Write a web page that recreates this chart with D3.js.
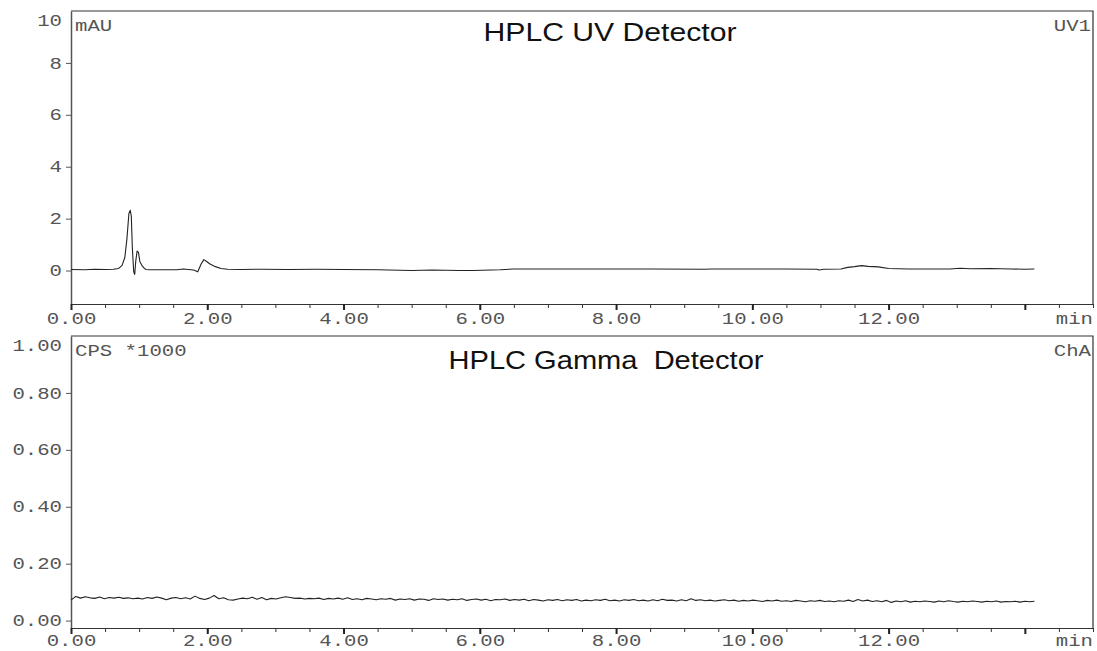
<!DOCTYPE html>
<html>
<head>
<meta charset="utf-8">
<script src="https://cdn.jsdelivr.net/npm/d3@7"></script>
<style>
  body { margin: 0; background: #fff; }
  .tick text { font-family: "Courier New", "Liberation Mono", monospace; fill: #555; }
  .lbl { font-family: "Courier New", "Liberation Mono", monospace; fill: #555; }
  .title { font-family: Arial, "Liberation Sans", sans-serif; fill: #111; }
</style>
</head>
<body>
<div id="chart"></div>
<script>
// UV trace, [min, mAU]
let uvTimes = [0, 0.2, 0.35, 0.5, 0.62, 0.7, 0.75, 0.79, 0.82, 0.85, 0.87, 0.885, 0.9, 0.92, 0.935, 0.95, 0.97, 0.99,
  1.01, 1.04, 1.07, 1.1, 1.16, 1.3, 1.55, 1.65, 1.72, 1.8, 1.86, 1.91, 1.95, 1.99, 2.04, 2.12, 2.2, 2.3, 2.5,
  2.8, 3.2, 3.6, 4.0, 4.5, 5.0, 5.3, 5.7, 5.9, 6.3, 6.5, 7.5, 8.5, 9.3, 9.4, 10.5, 10.95, 10.98, 11.05, 11.3,
  11.4, 11.5, 11.6, 11.7, 11.85, 12.0, 12.3, 12.9, 13.05, 13.2, 13.5, 13.8, 14.0, 14.14];
let uvValues = [0.04, 0.03, 0.05, 0.04, 0.05, 0.08, 0.2, 0.5, 1.2, 2.2, 2.32, 2.1, 0.9, -0.05, -0.15, 0.35, 0.75, 0.7,
  0.35, 0.2, 0.1, 0.04, 0.03, 0.03, 0.03, 0.06, 0.04, 0.02, -0.05, 0.25, 0.42, 0.35, 0.25, 0.15, 0.08, 0.05, 0.04,
  0.05, 0.04, 0.05, 0.04, 0.03, 0.0, 0.02, 0.0, 0.0, 0.03, 0.06, 0.06, 0.06, 0.05, 0.06, 0.06, 0.05, 0.02, 0.05, 0.06,
  0.12, 0.15, 0.19, 0.16, 0.14, 0.08, 0.06, 0.06, 0.09, 0.07, 0.08, 0.06, 0.05, 0.06];

// gamma trace, CPS*1000, one reading every gammaStep minutes
let gammaStep = 0.07;
let gammaValues = [
  0.072, 0.085, 0.079, 0.084, 0.080, 0.078, 0.083, 0.077, 0.081, 0.079,
  0.082, 0.078, 0.080, 0.077, 0.079, 0.076, 0.081, 0.078, 0.083, 0.079,
  0.073, 0.079, 0.081, 0.077, 0.080, 0.076, 0.086, 0.078, 0.074, 0.079,
  0.088, 0.077, 0.080, 0.073, 0.072, 0.076, 0.079, 0.077, 0.082, 0.075,
  0.081, 0.073, 0.078, 0.076, 0.080, 0.084, 0.081, 0.078, 0.079, 0.076,
  0.078, 0.077, 0.079, 0.074, 0.078, 0.076, 0.079, 0.075, 0.080, 0.074,
  0.077, 0.073, 0.078, 0.076, 0.073, 0.077, 0.075, 0.078, 0.072, 0.076,
  0.074, 0.077, 0.072, 0.076, 0.075, 0.071, 0.077, 0.074, 0.076, 0.072,
  0.075, 0.073, 0.077, 0.071, 0.074, 0.076, 0.072, 0.075, 0.070, 0.074,
  0.073, 0.076, 0.071, 0.074, 0.072, 0.075, 0.070, 0.074, 0.072, 0.069,
  0.073, 0.071, 0.074, 0.070, 0.073, 0.071, 0.074, 0.069, 0.072, 0.070,
  0.073, 0.071, 0.075, 0.070, 0.072, 0.069, 0.073, 0.071, 0.074, 0.070,
  0.072, 0.069, 0.073, 0.070, 0.075, 0.071, 0.072, 0.069, 0.073, 0.070,
  0.077, 0.071, 0.073, 0.070, 0.072, 0.069, 0.071, 0.073, 0.070, 0.072,
  0.068, 0.071, 0.069, 0.072, 0.070, 0.067, 0.071, 0.069, 0.072, 0.068,
  0.070, 0.067, 0.071, 0.069, 0.066, 0.070, 0.068, 0.071, 0.067, 0.069,
  0.066, 0.070, 0.068, 0.072, 0.067, 0.074, 0.069, 0.072, 0.067, 0.070,
  0.066, 0.071, 0.064, 0.069, 0.066, 0.070, 0.065, 0.068, 0.066, 0.069,
  0.067, 0.065, 0.069, 0.066, 0.070, 0.067, 0.065, 0.068, 0.066, 0.069,
  0.067, 0.065, 0.068, 0.066, 0.069, 0.065, 0.067, 0.066, 0.068, 0.065,
  0.068, 0.066, 0.068];

let uvTicks = [0, 2, 4, 6, 8, 10];
let gammaTicks = [0, 0.2, 0.4, 0.6, 0.8, 1.0];
let xMajor = [0, 2, 4, 6, 8, 10, 12, 14];

let svgWidth = 1097;
let svgHeight = 651;
let left = 71, right = 1093;
let monoSize = 16, charW = 12.4; // courier-ish letters, a bit wide

let svg = d3.select('#chart')
    .append('svg')
    .attr('width', svgWidth)
    .attr('height', svgHeight);

let x = d3.scaleLinear().domain([0, 15]).range([left, right]);

let uvData = uvTimes.map((t, i) => [t, uvValues[i]]);
let gammaData = gammaValues.map((v, i) => [i * gammaStep, v]);

// stretch mono text to the wider spacing of the original
function widen(sel) {
    sel.each(function () {
        let n = this.textContent.length;
        if (n) d3.select(this).attr('textLength', n * charW).attr('lengthAdjust', 'spacingAndGlyphs');
    });
}

function drawPanel(p) {
    let y = d3.scaleLinear().domain(p.yDomain).range([p.bottom, p.top]);
    let g = svg.append('g');

    // frame: top and right
    g.append('path')
        .attr('d', `M${left},${p.top}H${right}V${p.bottom}`)
        .attr('fill', 'none')
        .attr('stroke', '#333')
        .attr('stroke-width', 1.2);

    // y axis
    let yAx = g.append('g')
        .attr('transform', `translate(${left},0)`)
        .call(d3.axisLeft(y).tickValues(p.yTicks).tickFormat(p.fmt).tickSize(5).tickSizeOuter(0).tickPadding(4));
    yAx.select('.domain').attr('stroke', '#555').attr('stroke-width', 1.5);
    yAx.selectAll('.tick line').attr('stroke', '#555');
    yAx.selectAll('.tick text').attr('font-size', monoSize).call(widen);
    // top label sits inside the frame, no tick
    let topTick = yAx.selectAll('.tick').filter(d => d === p.yDomain[1]);
    topTick.select('line').remove();
    topTick.select('text').attr('dy', '0.9em');

    // x axis, minor and major
    let xMinor = g.append('g')
        .attr('transform', `translate(0,${p.bottom})`)
        .call(d3.axisBottom(x).tickValues(d3.range(0, 15.01, 0.5)).tickFormat('').tickSize(4).tickSizeOuter(0));
    xMinor.select('.domain').attr('stroke', '#333').attr('stroke-width', 1.2);
    xMinor.selectAll('.tick line').attr('stroke', '#333');

    let xAx = g.append('g')
        .attr('transform', `translate(0,${p.bottom})`)
        .call(d3.axisBottom(x).tickValues(xMajor).tickFormat(d => d === 14 ? '' : d3.format('.2f')(d)).tickSize(6).tickPadding(p.xPad));
    xAx.select('.domain').remove();
    xAx.selectAll('.tick line').attr('stroke', '#222').attr('stroke-width', 2);
    xAx.selectAll('.tick text').attr('font-size', monoSize).call(widen);

    g.append('text').attr('class', 'lbl')
        .attr('x', right).attr('y', p.bottom + 17 + p.xPad)
        .attr('text-anchor', 'end').attr('font-size', monoSize)
        .text('min').call(widen);

    // unit and channel
    g.append('text').attr('class', 'lbl')
        .attr('x', left + 4).attr('y', p.top + 20)
        .attr('font-size', monoSize)
        .text(p.unit).call(widen);
    g.append('text').attr('class', 'lbl')
        .attr('x', right - 2).attr('y', p.top + 20)
        .attr('text-anchor', 'end').attr('font-size', monoSize)
        .text(p.channel).call(widen);

    g.append('text').attr('class', 'title')
        .attr('x', p.titleX).attr('y', p.top + p.titleDy)
        .attr('text-anchor', 'middle').attr('font-size', 25)
        .attr('textLength', p.titleW).attr('lengthAdjust', 'spacingAndGlyphs')
        .style('white-space', 'pre')
        .text(p.title);

    let line = d3.line().x(d => x(d[0])).y(d => y(d[1]));
    g.append('path')
        .datum(p.data)
        .attr('d', line)
        .attr('fill', 'none')
        .attr('stroke', '#222')
        .attr('stroke-width', 1.1)
        .attr('stroke-linejoin', 'round');
}

drawPanel({
    top: 11, bottom: 304, yDomain: [-1.29, 10], yTicks: uvTicks, fmt: d3.format('d'), xPad: 3,
    unit: 'mAU', channel: 'UV1', title: 'HPLC UV Detector', titleX: 610, titleDy: 30, titleW: 253, data: uvData
});
drawPanel({
    top: 336, bottom: 628, yDomain: [-0.026, 1.0], yTicks: gammaTicks, fmt: d3.format('.2f'), xPad: 1,
    unit: 'CPS *1000', channel: 'ChA', title: 'HPLC Gamma  Detector', titleX: 606, titleDy: 33, titleW: 315, data: gammaData
});
</script>
</body>
</html>
